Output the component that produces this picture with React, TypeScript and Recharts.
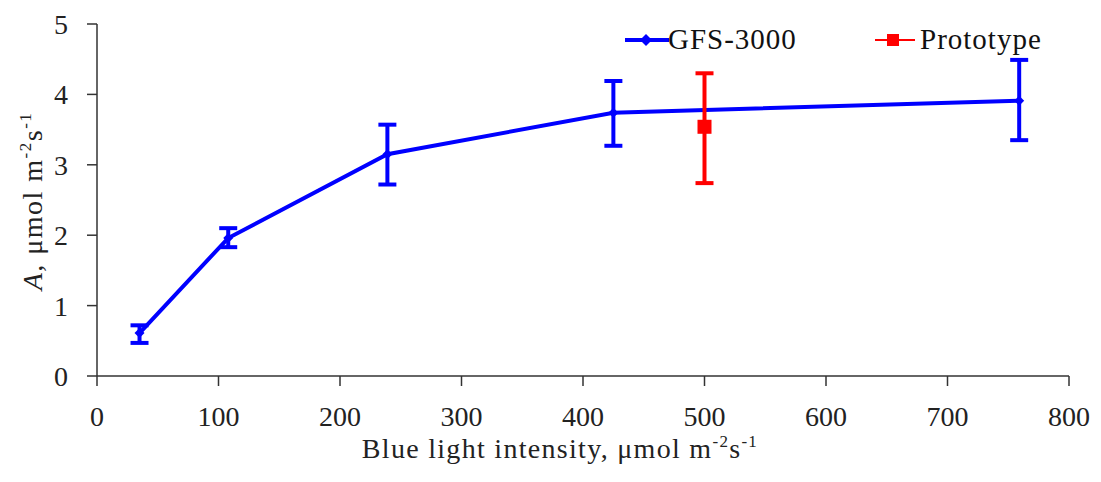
import { ComposedChart, Line, XAxis, YAxis, ErrorBar, Legend, Label } from "recharts";

// GFS-3000 readings
const gfsLight = [35, 108, 239, 425, 759];
const gfsMean = [0.61, 1.96, 3.15, 3.74, 3.91];
const gfsLow = [0.47, 1.83, 2.72, 3.27, 3.35];
const gfsHigh = [0.72, 2.1, 3.57, 4.19, 4.49];

// Prototype reading
const protoLight = [500];
const protoMean = [3.54];
const protoLow = [2.74];
const protoHigh = [4.3];

const xTicks = [0, 100, 200, 300, 400, 500, 600, 700, 800];
const yTicks = [0, 1, 2, 3, 4, 5];

const FONT = "'Liberation Serif', 'DejaVu Serif', serif";
const BLUE = "#0000ff";
const RED = "#ff0000";
const AXIS = "#333";

const gfsData = gfsLight.map((x, i) => ({
  x,
  y: gfsMean[i],
  err: [gfsMean[i] - gfsLow[i], gfsHigh[i] - gfsMean[i]],
}));

const protoData = protoLight.map((x, i) => ({
  x,
  y: protoMean[i],
  err: [protoMean[i] - protoLow[i], protoHigh[i] - protoMean[i]],
}));

const Diamond = (props: any) => {
  const { cx, cy } = props;
  if (cx == null || cy == null) return null;
  const r = 5;
  return <path d={`M${cx},${cy - r}L${cx + r},${cy}L${cx},${cy + r}L${cx - r},${cy}Z`} fill={BLUE} />;
};

const Square = (props: any) => {
  const { cx, cy } = props;
  if (cx == null || cy == null) return null;
  const s = 14;
  return <rect x={cx - s / 2} y={cy - s / 2} width={s} height={s} fill={RED} />;
};

const renderLegend = () => (
  <div style={{ position: "relative", width: 460, height: 40, fontFamily: FONT, fontSize: 29, letterSpacing: 1, color: "#111" }}>
    <svg width={44} height={20} style={{ position: "absolute", left: 5, top: 10 }}>
      <line x1={0} y1={10} x2={44} y2={10} stroke={BLUE} strokeWidth={4} />
      <path d="M21,4L27,10L21,16L15,10Z" fill={BLUE} />
    </svg>
    <span style={{ position: "absolute", left: 48, top: 2, lineHeight: "34px" }}>GFS-3000</span>
    <svg width={42} height={20} style={{ position: "absolute", left: 255, top: 10 }}>
      <line x1={0} y1={10} x2={40} y2={10} stroke={RED} strokeWidth={2} />
      <rect x={12} y={4} width={12} height={12} fill={RED} />
    </svg>
    <span style={{ position: "absolute", left: 300, top: 2, lineHeight: "34px" }}>Prototype</span>
  </div>
);

const YLabel = () => (
  <text
    transform="translate(42,201) rotate(-90)"
    textAnchor="middle"
    fontFamily={FONT}
    fontSize={28}
    letterSpacing={1.5}
    fill="#222"
  >
    <tspan fontStyle="italic">A,</tspan>
    <tspan>{"  μmol m"}</tspan>
    <tspan fontSize={17} dy={-11}>-2</tspan>
    <tspan dy={11}>s</tspan>
    <tspan fontSize={17} dy={-11}>-1</tspan>
  </text>
);

const XLabel = () => (
  <text x={560} y={458} textAnchor="middle" fontFamily={FONT} fontSize={28} letterSpacing={1.3} fill="#222">
    <tspan>Blue light intensity, μmol m</tspan>
    <tspan fontSize={17} dy={-11}>-2</tspan>
    <tspan dy={11}>s</tspan>
    <tspan fontSize={17} dy={-11}>-1</tspan>
  </text>
);

export default function App() {
  return (
    <div style={{ position: "absolute", left: 0, top: 0, width: 1101, height: 482, background: "#fff" }}>
      <ComposedChart
        width={1101}
        height={482}
        margin={{ top: 24, right: 32, left: 0, bottom: 0 }}
        style={{ fontFamily: FONT }}
      >
        <XAxis
          type="number"
          dataKey="x"
          domain={[0, 800]}
          ticks={xTicks}
          height={106}
          stroke={AXIS}
          strokeWidth={1.5}
          tickSize={10}
          tickMargin={20}
          tick={{ fontSize: 28, fill: "#222", fontFamily: FONT }}
          allowDuplicatedCategory={false}
        >
          <Label content={<XLabel />} />
        </XAxis>
        <YAxis
          type="number"
          domain={[0, 5]}
          ticks={yTicks}
          width={97}
          stroke={AXIS}
          strokeWidth={1.5}
          tickSize={10}
          tickMargin={19}
          tick={{ fontSize: 28, fill: "#222", fontFamily: FONT }}
        >
          <Label content={<YLabel />} />
        </YAxis>
        <Legend
          layout="horizontal"
          verticalAlign="middle"
          align="center"
          wrapperStyle={{ top: 20, left: 620, width: 460 }}
          content={renderLegend}
        />
        <Line
          data={gfsData}
          dataKey="y"
          name="GFS-3000"
          stroke={BLUE}
          strokeWidth={4}
          dot={<Diamond />}
          activeDot={false}
          isAnimationActive={false}
        >
          <ErrorBar dataKey="err" direction="y" width={9} strokeWidth={4} stroke={BLUE} isAnimationActive={false} />
        </Line>
        <Line
          data={protoData}
          dataKey="y"
          name="Prototype"
          stroke={RED}
          strokeWidth={2}
          dot={<Square />}
          activeDot={false}
          isAnimationActive={false}
        >
          <ErrorBar dataKey="err" direction="y" width={9} strokeWidth={4} stroke={RED} isAnimationActive={false} />
        </Line>
      </ComposedChart>
    </div>
  );
}
